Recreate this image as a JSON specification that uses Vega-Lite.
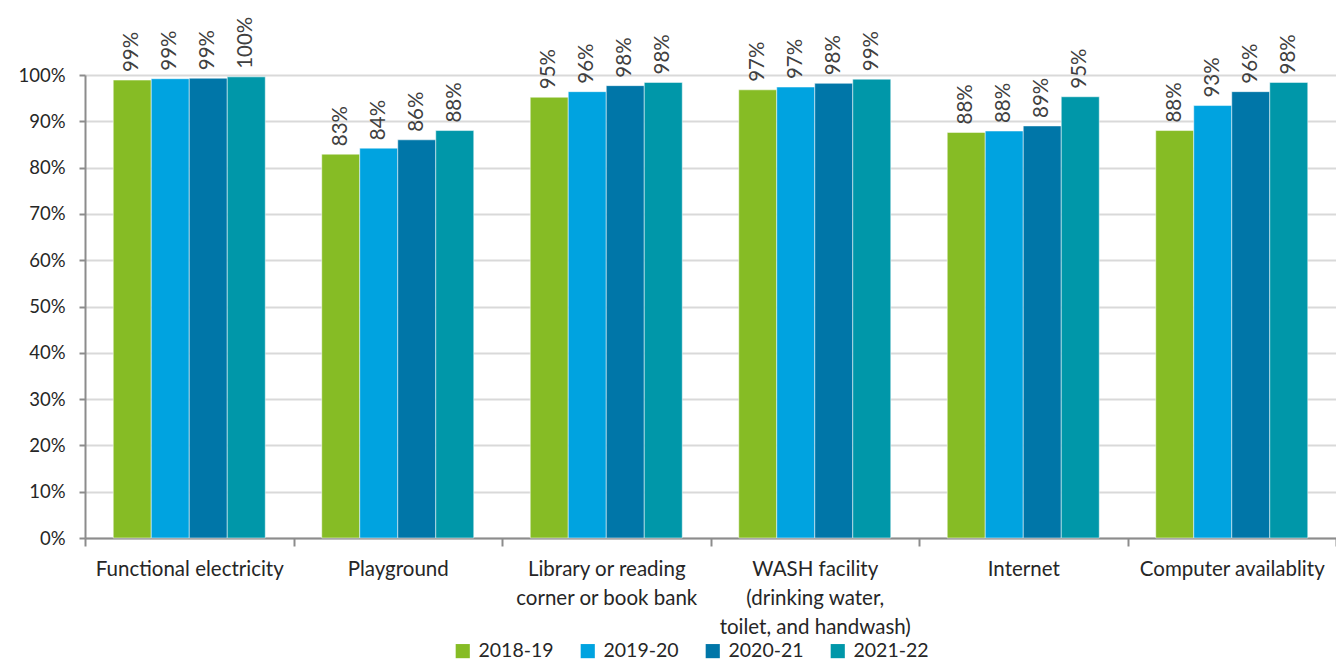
{
  "$schema": "https://vega.github.io/schema/vega-lite/v6.json",
  "width": 1251,
  "height": 463,
  "autosize": "none",
  "padding": {"left": 85, "top": 75, "right": 0, "bottom": 124},
  "background": "white",
  "config": {"view": {"stroke": null}, "font": "Lato"},
  "data": {"values": [
    {"facility": "Functional electricity", "year": "2018-19", "value": 0.989},
    {"facility": "Functional electricity", "year": "2019-20", "value": 0.992},
    {"facility": "Functional electricity", "year": "2020-21", "value": 0.993},
    {"facility": "Functional electricity", "year": "2021-22", "value": 0.996},
    {"facility": "Playground", "year": "2018-19", "value": 0.829},
    {"facility": "Playground", "year": "2019-20", "value": 0.842},
    {"facility": "Playground", "year": "2020-21", "value": 0.860},
    {"facility": "Playground", "year": "2021-22", "value": 0.880},
    {"facility": "Library or reading corner or book bank", "year": "2018-19", "value": 0.952},
    {"facility": "Library or reading corner or book bank", "year": "2019-20", "value": 0.964},
    {"facility": "Library or reading corner or book bank", "year": "2020-21", "value": 0.977},
    {"facility": "Library or reading corner or book bank", "year": "2021-22", "value": 0.984},
    {"facility": "WASH facility (drinking water, toilet, and handwash)", "year": "2018-19", "value": 0.968},
    {"facility": "WASH facility (drinking water, toilet, and handwash)", "year": "2019-20", "value": 0.974},
    {"facility": "WASH facility (drinking water, toilet, and handwash)", "year": "2020-21", "value": 0.982},
    {"facility": "WASH facility (drinking water, toilet, and handwash)", "year": "2021-22", "value": 0.991},
    {"facility": "Internet", "year": "2018-19", "value": 0.876},
    {"facility": "Internet", "year": "2019-20", "value": 0.879},
    {"facility": "Internet", "year": "2020-21", "value": 0.890},
    {"facility": "Internet", "year": "2021-22", "value": 0.953},
    {"facility": "Computer availablity", "year": "2018-19", "value": 0.880},
    {"facility": "Computer availablity", "year": "2019-20", "value": 0.934},
    {"facility": "Computer availablity", "year": "2020-21", "value": 0.964},
    {"facility": "Computer availablity", "year": "2021-22", "value": 0.984}
  ]},
  "encoding": {
    "x": {
      "field": "facility", "type": "nominal", "sort": null,
      "scale": {"paddingInner": 0, "paddingOuter": 0},
      "axis": {
        "title": null, "labelAngle": 0, "labelFontSize": 20.5, "labelColor": "#262626",
        "labelPadding": 13, "labelLineHeight": 29, "labelBaseline": "top",
        "domainColor": "#8c8c8c", "domainWidth": 2, "tickColor": "#8c8c8c", "tickWidth": 2, "tickSize": 8,
        "tickBand": "extent", "grid": false, "labelLimit": 300,
        "labelExpr": "datum.label == 'Library or reading corner or book bank' ? ['Library or reading', 'corner or book bank'] : datum.label == 'WASH facility (drinking water, toilet, and handwash)' ? ['WASH facility', '(drinking water,', 'toilet, and handwash)'] : datum.label"
      }
    },
    "xOffset": {"field": "year", "type": "nominal", "scale": {"paddingInner": 0, "paddingOuter": 0.743}},
    "y": {
      "field": "value", "type": "quantitative",
      "scale": {"domain": [0, 1], "nice": false},
      "axis": {
        "title": null, "format": ".0%", "values": [0, 0.1, 0.2, 0.3, 0.4, 0.5, 0.6, 0.7, 0.8, 0.9, 1],
        "labelFontSize": 18.5, "labelColor": "#262626", "labelPadding": 14,
        "domainColor": "#8c8c8c", "domainWidth": 2, "tickColor": "#8c8c8c", "tickWidth": 2, "tickSize": 6,
        "gridColor": "#d9d9d9", "gridWidth": 2
      }
    },
    "color": {
      "field": "year", "type": "nominal",
      "scale": {"domain": ["2018-19", "2019-20", "2020-21", "2021-22"], "range": ["#86BC25", "#00A3E0", "#0076A8", "#0097A9"]},
      "legend": {
        "title": null, "orient": "none", "direction": "horizontal", "legendX": 368, "legendY": 566,
        "symbolType": "square", "symbolSize": 200, "symbolStrokeWidth": 0, "labelFontSize": 19.5, "labelColor": "#262626",
        "columnPadding": 24, "labelOffset": 6
      }
    }
  },
  "layer": [
    {"mark": {"type": "bar", "stroke": "white", "strokeWidth": 0.5}},
    {
      "mark": {"type": "text", "angle": 270, "align": "left", "baseline": "middle", "dx": 8, "fontSize": 20.5, "color": "#404040", "clip": false},
      "encoding": {"text": {"field": "value", "type": "quantitative", "format": ".0%"}, "color": {"value": "#404040"}}
    }
  ]
}
